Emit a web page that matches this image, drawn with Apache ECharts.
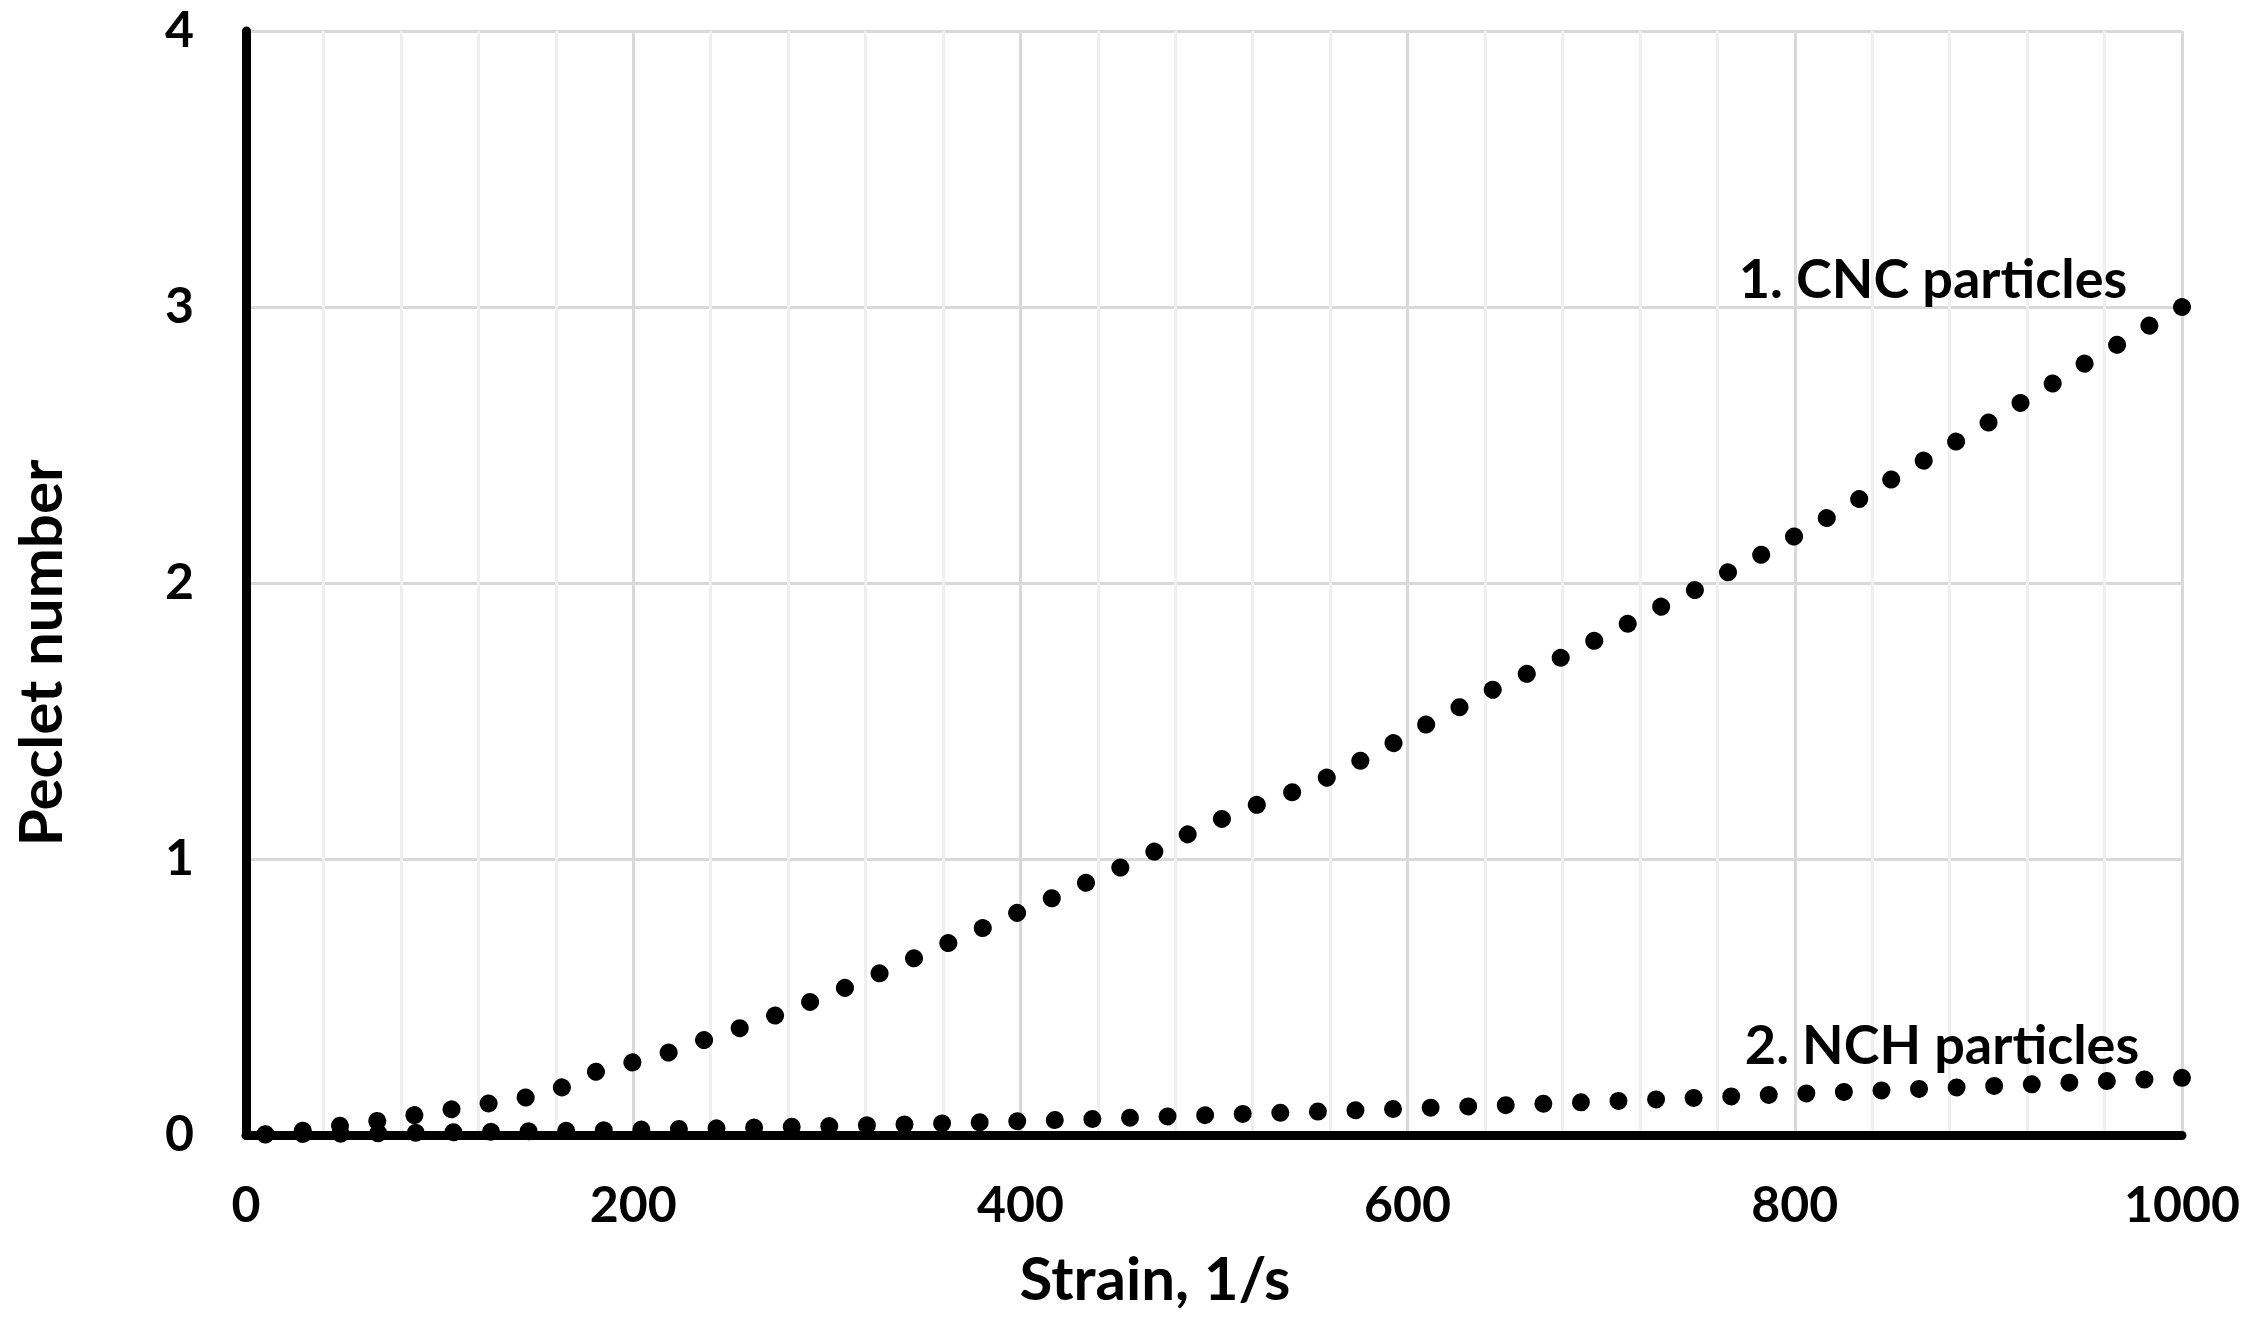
<!DOCTYPE html>
<html><head><meta charset="utf-8">
<script src="https://cdn.jsdelivr.net/npm/echarts@6/dist/echarts.min.js"></script>
<style>html,body{margin:0;padding:0;background:#fff}#c{width:2252px;height:1323px}</style>
</head><body><div id="c"></div>
<script>
// CNC particles curve (Strain, 1/s vs Peclet number)
const cncStrain = [10,29,48,68,87,106,125,144,163,180,199,218,237,255,273,291,309,327,345,362,380,398,416,433,451,469,486,504,522,540,558,575,592,609,626,643,661,679,696,713,730,748,765,782,799,816,833,849,866,883,900,916,933,949,966,983,1000];
const cncPeclet = [0.003,0.015,0.033,0.051,0.072,0.093,0.114,0.135,0.172,0.228,0.262,0.298,0.345,0.387,0.432,0.481,0.532,0.585,0.640,0.693,0.748,0.804,0.857,0.911,0.967,1.026,1.088,1.145,1.196,1.241,1.294,1.354,1.417,1.485,1.547,1.610,1.669,1.729,1.789,1.850,1.911,1.973,2.037,2.100,2.166,2.233,2.303,2.372,2.441,2.511,2.581,2.650,2.722,2.792,2.861,2.932,3.000];
// NCH particles curve
const nchStrain = [10,50,100,150,200,250,300,350,400,450,500,550,600,650,700,750,800,850,900,950,1000];
const nchPeclet = [0.002,0.005,0.009,0.014,0.019,0.025,0.032,0.040,0.050,0.061,0.073,0.084,0.096,0.108,0.121,0.135,0.149,0.163,0.177,0.192,0.207];
const seriesNames = ['1. CNC particles','2. NCH particles'];
const xTitle = 'Strain, 1/s';
const yTitle = 'Peclet number';

const FONT = 'Lato';
const chart = echarts.init(document.getElementById('c'), null, {renderer:'canvas'});
const cncData = cncStrain.map((x,i)=>[x,cncPeclet[i]]);
const nchData = nchStrain.map((x,i)=>[x,nchPeclet[i]]);
function dotStyle(gap){ return {color:'#000', width:18, type:[0.01, gap-0.01], cap:'round'}; }
chart.setOption({
  animation:false,
  backgroundColor:'#fff',
  grid:{left:246, right:70, top:31, bottom:188, containLabel:false, outerBoundsMode:'none'},
  xAxis:{
    type:'value', min:0, max:1000, interval:200,
    axisLine:{show:true, onZero:true, lineStyle:{color:'#000', width:9}},
    axisTick:{show:false},
    axisLabel:{show:true, margin:46, color:'#000', fontFamily:FONT, fontWeight:'bold', fontSize:50, formatter:(v)=>String(v)},
    splitLine:{show:true, lineStyle:{color:'#d9d9d9', width:3}},
    minorTick:{show:false, splitNumber:5},
    minorSplitLine:{show:true, lineStyle:{color:'#efefef', width:3}}
  },
  yAxis:{
    type:'value', min:0, max:4, interval:1,
    axisLine:{show:true, lineStyle:{color:'#000', width:9}},
    axisTick:{show:false},
    axisLabel:{show:true, margin:52, color:'#000', fontFamily:FONT, fontWeight:'bold', fontSize:50, formatter:(v)=>String(v)},
    splitLine:{show:true, lineStyle:{color:'#d9d9d9', width:3}}
  },
  series:[
    {name:seriesNames[0], type:'line', data:cncData, showSymbol:false, symbol:'none', clip:false, lineStyle:dotStyle(37.3), emphasis:{disabled:true}, z:3},
    {name:seriesNames[1], type:'line', data:nchData, showSymbol:false, symbol:'none', clip:false, lineStyle:dotStyle(37.3), emphasis:{disabled:true}, z:3}
  ],
  graphic:[
    {type:'text', z:100, x:1933, y:281, style:{text:seriesNames[0], fill:'#000', font:'bold 54px '+FONT, textAlign:'center', textVerticalAlign:'middle'}},
    {type:'text', z:100, x:1942, y:1047, style:{text:seriesNames[1], fill:'#000', font:'bold 54px '+FONT, textAlign:'center', textVerticalAlign:'middle'}},
    {type:'text', z:100, x:1155, y:1281, style:{text:xTitle, fill:'#000', font:'bold 60px '+FONT, textAlign:'center', textVerticalAlign:'middle'}},
    {type:'text', z:100, x:43, y:653, rotation:Math.PI/2, style:{text:yTitle, fill:'#000', font:'bold 60px '+FONT, textAlign:'center', textVerticalAlign:'middle'}}
  ]
});
// Fit dot spacing so that each dotted curve starts and ends on a dot (like the reference)
function fitGap(data){
  let L = 0, prev = null;
  data.forEach(d=>{
    const p = chart.convertToPixel({gridIndex:0}, d);
    if (prev) L += Math.hypot(p[0]-prev[0], p[1]-prev[1]);
    prev = p;
  });
  const n = Math.max(1, Math.round(L/37.3));
  return L/n;
}
chart.setOption({series:[{lineStyle:dotStyle(fitGap(cncData))},{lineStyle:dotStyle(fitGap(nchData))}]});
</script>
</body></html>
